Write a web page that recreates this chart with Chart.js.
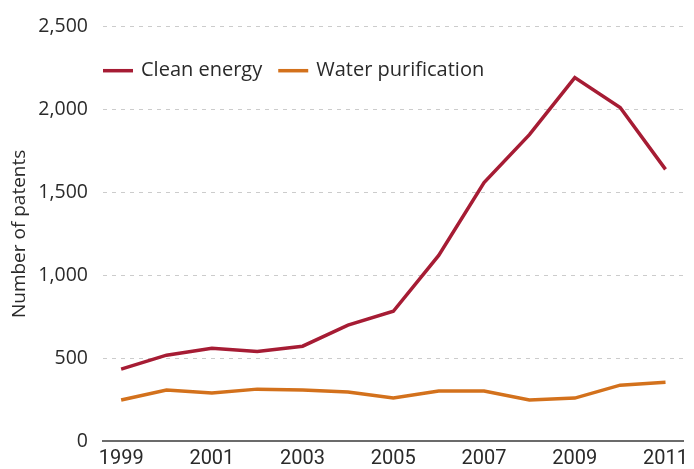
<!DOCTYPE html>
<html>
<head>
<meta charset="utf-8">
<script src="https://cdn.jsdelivr.net/npm/chart.js@4/dist/chart.umd.min.js"></script>
<style>
  html, body { margin: 0; padding: 0; background: #fff; }
  #wrap { width: 694px; height: 469px; position: relative; }
</style>
</head>
<body>
<div id="wrap"><canvas id="c" width="694" height="469"></canvas></div>
<script>
const years = [1999, 2000, 2001, 2002, 2003, 2004, 2005, 2006, 2007, 2008, 2009, 2010, 2011];
const cleanEnergy = [434, 518, 560, 540, 572, 699, 783, 1120, 1560, 1849, 2193, 2012, 1639];
const waterPurification = [247, 307, 289, 313, 307, 295, 259, 301, 301, 247, 259, 337, 355];
const xTickYears = [1999, 2001, 2003, 2005, 2007, 2009, 2011];
const yTickValues = [0, 500, 1000, 1500, 2000, 2500];
const seriesNames = ['Clean energy', 'Water purification'];
const seriesColors = ['#A61C34', '#D3711C'];

const toPoints = arr => years.map((y, i) => ({ x: y, y: arr[i] }));

const legendPlugin = {
  id: 'innerLegend',
  afterDraw(chart) {
    const ctx = chart.ctx;
    const area = chart.chartArea;
    ctx.save();
    ctx.font = '20px "Open Sans", sans-serif';
    ctx.textBaseline = 'middle';
    let x = area.left;
    const y = area.top + 44;
    chart.data.datasets.forEach(ds => {
      ctx.strokeStyle = ds.borderColor;
      ctx.lineWidth = 3.5;
      ctx.beginPath();
      ctx.moveTo(x, y);
      ctx.lineTo(x + 30, y);
      ctx.stroke();
      x += 38;
      ctx.fillStyle = '#2a2a2a';
      ctx.fillText(ds.label, x, y);
      x += ctx.measureText(ds.label).width + 16;
    });
    ctx.restore();
  }
};

new Chart(document.getElementById('c'), {
  type: 'line',
  data: {
    datasets: [
      { label: seriesNames[0], data: toPoints(cleanEnergy), borderColor: seriesColors[0], backgroundColor: seriesColors[0], borderWidth: 3.5, pointRadius: 0, tension: 0 },
      { label: seriesNames[1], data: toPoints(waterPurification), borderColor: seriesColors[1], backgroundColor: seriesColors[1], borderWidth: 3.5, pointRadius: 0, tension: 0 }
    ]
  },
  options: {
    responsive: false,
    animation: false,
    layout: { padding: { top: 16, right: 0, left: 0, bottom: 0 } },
    plugins: { legend: { display: false }, tooltip: { enabled: false } },
    scales: {
      x: {
        type: 'linear',
        min: 1998.6,
        max: 2011.4,
        afterBuildTicks: s => { s.ticks = xTickYears.map(v => ({ value: v })); },
        grid: { display: false, drawTicks: false },
        border: { display: true, color: '#6b6b6b', width: 2 },
        ticks: {
          padding: 6,
          color: '#2a2a2a',
          font: { family: '"Liberation Sans Narrow", "Roboto", sans-serif', size: 20 },
          callback: v => String(v),
          maxRotation: 0,
          autoSkip: false
        },
        afterFit: s => { s.height = 28; }
      },
      y: {
        min: 0,
        max: 2500,
        afterBuildTicks: s => { s.ticks = yTickValues.map(v => ({ value: v })); },
        grid: {
          drawTicks: false,
          color: ctx => (ctx.tick && ctx.tick.value === 0) ? 'rgba(0,0,0,0)' : '#cccccc',
          lineWidth: 1
        },
        border: { display: false, dash: [4, 5] },
        ticks: {
          padding: 15,
          color: '#2a2a2a',
          font: { family: '"Open Sans", sans-serif', size: 19.5 },
          callback: v => v.toLocaleString('en-US')
        },
        title: {
          display: true,
          text: 'Number of patents',
          color: '#2a2a2a',
          font: { family: '"Open Sans", sans-serif', size: 19 },
          padding: { top: 8, bottom: 0 }
        },
        afterFit: s => { s.width = 103; }
      }
    }
  },
  plugins: [legendPlugin]
});
</script>
</body>
</html>
